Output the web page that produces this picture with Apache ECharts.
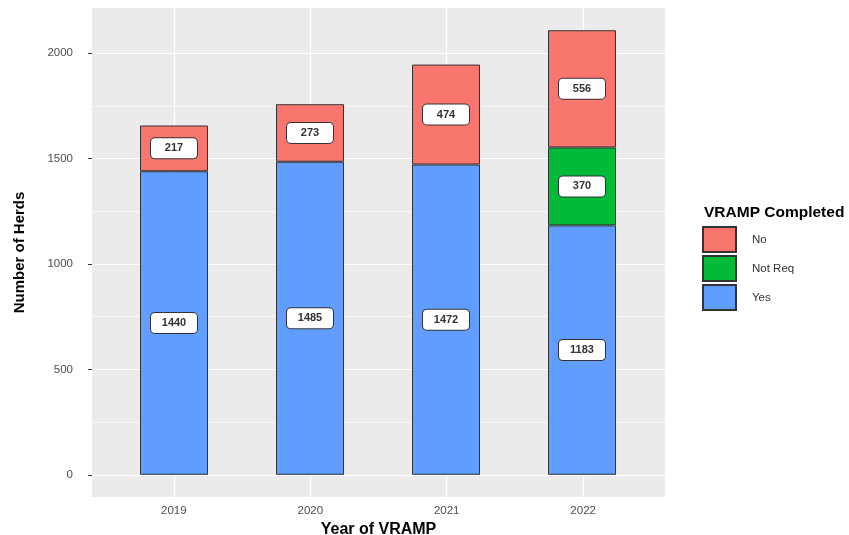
<!DOCTYPE html>
<html>
<head>
<meta charset="utf-8">
<script src="https://cdn.jsdelivr.net/npm/echarts@6/dist/echarts.min.js"></script>
<style>html,body{margin:0;padding:0;background:#fff;}#c{width:849px;height:535px;}</style>
</head>
<body>
<div id="c"></div>
<script>
const years = ['2019', '2020', '2021', '2022'];
const yesValues = [1440, 1485, 1472, 1183];
const notReqValues = [null, null, null, 370];
const noValues = [217, 273, 474, 556];
const yTicks = [0, 500, 1000, 1500, 2000];
const yMinor = [250, 750, 1250, 1750];
const legendOrder = ['No', 'Not Req', 'Yes'];

const totals = years.map((_, i) => (yesValues[i] || 0) + (notReqValues[i] || 0) + (noValues[i] || 0));
const maxTotal = Math.max(...totals);
const yMin = -0.05 * maxTotal;
const yMax = maxTotal * 1.05;
const xPos = years.map((_, i) => i + 1);

const chart = echarts.init(document.getElementById('c'), null, { renderer: 'canvas' });
const font = 'Liberation Sans, Arial, sans-serif';
const barLabel = {
  show: true, position: 'inside',
  backgroundColor: '#fff', borderColor: '#333', borderWidth: 1, borderRadius: 4,
  width: 34, align: 'center', padding: [4, 6], lineHeight: 12,
  fontSize: 11, fontWeight: 'bold', color: '#333', fontFamily: font
};
function mk(name, vals, color) {
  return {
    name, type: 'bar', stack: 'total', barWidth: '50%',
    xAxisIndex: 1, yAxisIndex: 1,
    data: vals.map(v => v == null ? '-' : v),
    itemStyle: { color, borderColor: '#333', borderWidth: 1 },
    label: barLabel, z: 3
  };
}
const gridLines = [];
yMinor.forEach(v => gridLines.push({ yAxis: v, lineStyle: { width: 0.6 } }));
yTicks.forEach(v => gridLines.push({ yAxis: v, lineStyle: { width: 1.2 } }));
xPos.forEach(v => gridLines.push({ xAxis: v, lineStyle: { width: 1.2 } }));

chart.setOption({
  animation: false,
  textStyle: { fontFamily: font },
  title: { text: 'VRAMP Completed', left: 704, top: 205, padding: 0, textStyle: { fontSize: 15.5, fontWeight: 'bold', color: '#000', fontFamily: font } },
  legend: {
    orient: 'vertical', left: 702, top: 226, padding: 0,
    itemWidth: 33, itemHeight: 25, itemGap: 2,
    data: legendOrder, icon: 'rect',
    textStyle: { fontSize: 11.5, color: '#333', padding: [0, 0, 0, 11] }
  },
  grid: [
    { left: 92, right: 184, top: 8, bottom: 38, show: true, backgroundColor: '#EBEBEB', borderWidth: 0, outerBoundsMode: 'none' },
    { left: 106, right: 199, top: 8, bottom: 38, show: false, outerBoundsMode: 'none' }
  ],
  xAxis: [{
    type: 'value', min: 0.4, max: 4.6, gridIndex: 0,
    name: 'Year of VRAMP', nameLocation: 'middle', nameGap: 22,
    nameTextStyle: { fontSize: 16, fontWeight: 'bold', color: '#000' },
    axisLine: { show: false },
    axisTick: { show: true, length: 4, customValues: xPos, lineStyle: { color: '#333' } },
    axisLabel: { customValues: xPos, formatter: v => years[Math.round(v) - 1], fontSize: 11.5, color: '#4D4D4D', margin: 8 },
    splitLine: { show: false }
  }, {
    type: 'category', data: years, gridIndex: 1, show: false
  }],
  yAxis: [{
    type: 'value', min: yMin, max: yMax, gridIndex: 0,
    name: 'Number of Herds', nameLocation: 'middle', nameGap: 65, nameRotate: 90,
    nameTextStyle: { fontSize: 15, fontWeight: 'bold', color: '#000' },
    axisLine: { show: false },
    axisTick: { show: true, length: 4, customValues: yTicks, lineStyle: { color: '#333' } },
    axisLabel: { customValues: yTicks, formatter: v => String(v), fontSize: 11.5, color: '#4D4D4D', margin: 19 },
    splitLine: { show: false }
  }, {
    type: 'value', min: yMin, max: yMax, gridIndex: 1, show: false
  }],
  series: [
    {
      type: 'line', data: [], silent: true, z: 1, xAxisIndex: 0, yAxisIndex: 0,
      markLine: { silent: true, z: 1, symbol: 'none', label: { show: false }, animation: false,
        lineStyle: { color: '#fff', type: 'solid' }, data: gridLines }
    },
    mk('Yes', yesValues, '#619CFF'),
    mk('Not Req', notReqValues, '#00BA38'),
    mk('No', noValues, '#F8766D')
  ]
});
</script>
</body>
</html>
